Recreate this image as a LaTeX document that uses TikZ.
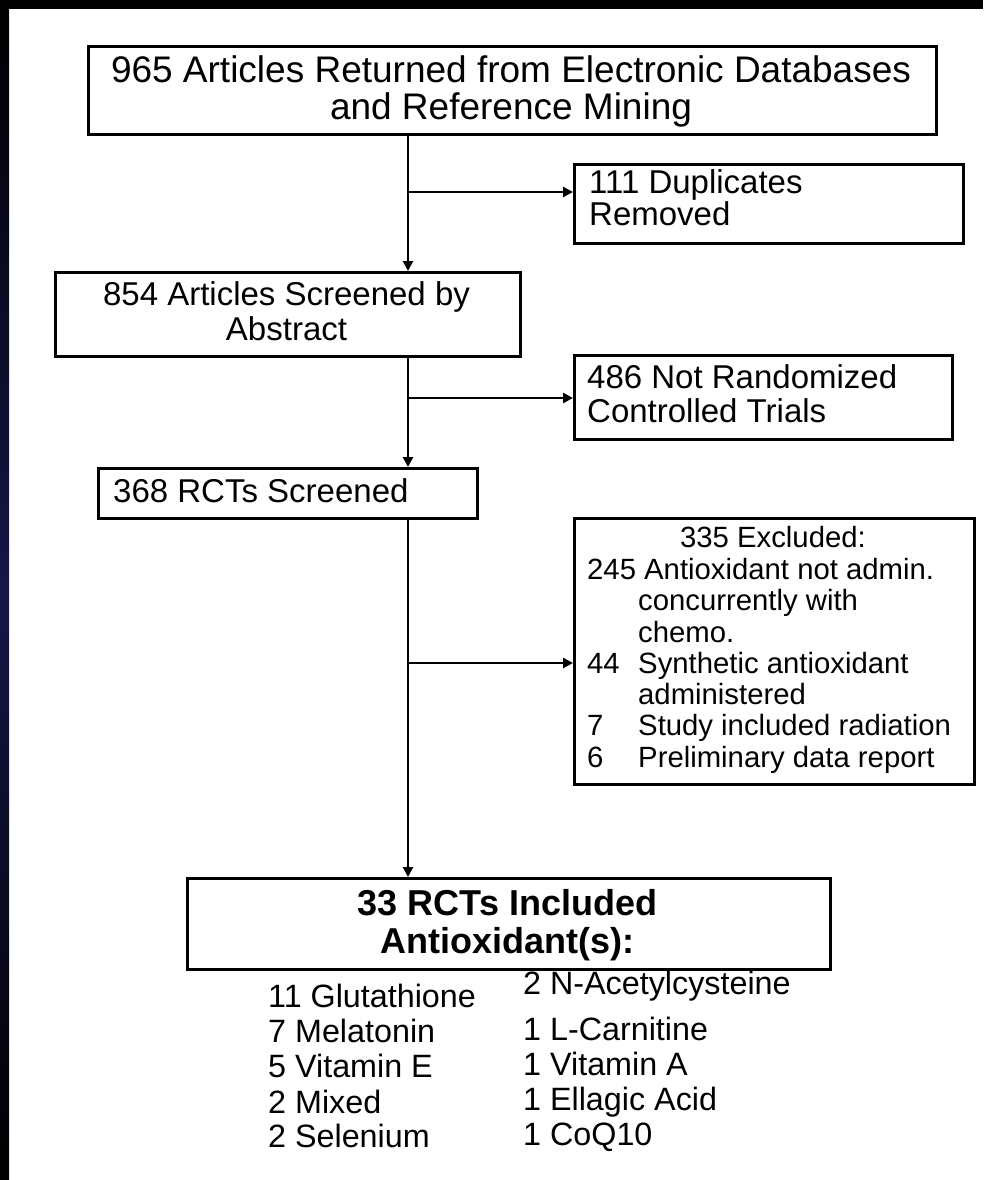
\documentclass[tikz,border=0pt]{standalone}
\usepackage{fontspec}
\setmainfont{Liberation Sans}
\usetikzlibrary{arrows.meta}
\definecolor{navy}{RGB}{22,22,72}
\begin{document}
\begin{tikzpicture}[x=1pt,y=-1pt,
  box/.style={draw=black, line width=2.6pt, rectangle, inner sep=0pt, anchor=north west},
  lbl/.style={inner sep=0pt, anchor=base west},
  ctr/.style={inner sep=0pt, anchor=base},
  conn/.style={line width=2.6pt},
  arr/.style={line width=2.6pt, -{Triangle[length=10pt,width=10pt]}},
  fA/.style={font=\fontsize{37}{37}\selectfont},
  fB/.style={font=\fontsize{33}{33}\selectfont},
  fC/.style={font=\fontsize{29.3}{29.3}\selectfont},
  fD/.style={font=\fontsize{36}{36}\selectfont\bfseries},
  fE/.style={font=\fontsize{32.3}{32.3}\selectfont},
]
% background and frame
\useasboundingbox (0,0) rectangle (983,1180);
\fill[white] (0,0) rectangle (983,1180);
\shade[top color=black, bottom color=black, middle color=navy] (0,0) rectangle (9,1180);
\fill[black] (0,0) rectangle (983,9);

% boxes
\node[box, minimum width=848pt, minimum height=88pt] (b1) at (87,45) {};
\node[box, minimum width=389pt, minimum height=79pt] (b3) at (573,163) {};
\node[box, minimum width=465pt, minimum height=84pt] (b2) at (54,271) {};
\node[box, minimum width=378pt, minimum height=84pt] (b5) at (573,354) {};
\node[box, minimum width=379pt, minimum height=50pt] (b4) at (97,467) {};
\node[box, minimum width=400pt, minimum height=266pt] (b7) at (573,517) {};
\node[box, minimum width=643pt, minimum height=91pt] (b6) at (186,877) {};

% texts
\node[ctr,fA] (t1a) at (511,83) {965 Articles Returned from Electronic Databases};
\node[ctr,fA] (t1b) at (511,120) {and Reference Mining};
\node[lbl,fB] (t3a) at (589,193) {111 Duplicates};
\node[lbl,fB] (t3b) at (589,225) {Removed};
\node[ctr,fB] (t2a) at (286.5,305) {854 Articles Screened by};
\node[ctr,fB] (t2b) at (286.5,340) {Abstract};
\node[lbl,fB] (t5a) at (587,388) {486 Not Randomized};
\node[lbl,fB] (t5b) at (587,422) {Controlled Trials};
\node[lbl,fB] (t4) at (113,502) {368 RCTs Screened};

\node[ctr,fC] (t7a) at (773,547) {335 Excluded:};
\node[lbl,fC] (t7b) at (587,579) {245 Antioxidant not admin.};
\node[lbl,fC] (t7c) at (638,610) {concurrently with};
\node[lbl,fC] (t7d) at (638,642) {chemo.};
\node[lbl,fC] (t7e) at (587,673) {44};
\node[lbl,fC] (t7f) at (638,673) {Synthetic antioxidant};
\node[lbl,fC] (t7g) at (638,704) {administered};
\node[lbl,fC] (t7h) at (587,735) {7};
\node[lbl,fC] (t7i) at (638,735) {Study included radiation};
\node[lbl,fC] (t7j) at (587,767) {6};
\node[lbl,fC] (t7k) at (638,767) {Preliminary data report};

\node[ctr,fD] (t6a) at (507.5,915) {33 RCTs Included};
\node[ctr,fD] (t6b) at (507.5,953) {Antioxidant(s):};

\node[lbl,fE] (l1) at (268,1007) {11 Glutathione};
\node[lbl,fE] (l2) at (268,1042) {7 Melatonin};
\node[lbl,fE] (l3) at (268,1077) {5 Vitamin E};
\node[lbl,fE] (l4) at (268,1113) {2 Mixed};
\node[lbl,fE] (l5) at (268,1147) {2 Selenium};
\node[lbl,fE] (r1) at (523,994) {2 N-Acetylcysteine};
\node[lbl,fE] (r2) at (523,1040) {1 L-Carnitine};
\node[lbl,fE] (r3) at (523,1075) {1 Vitamin A};
\node[lbl,fE] (r4) at (523,1110) {1 Ellagic Acid};
\node[lbl,fE] (r5) at (523,1145) {1 CoQ10};

% connectors
\coordinate (j1) at (408,192);
\coordinate (j2) at (408,398);
\coordinate (j3) at (408,663);
\draw[conn] (b1.south -| j1) -- (j1);
\draw[arr] (j1) -- (j1 -| b3.west);
\draw[arr] (j1) -- (j1 |- b2.north);
\draw[conn] (b2.south -| j2) -- (j2);
\draw[arr] (j2) -- (j2 -| b5.west);
\draw[arr] (j2) -- (j2 |- b4.north);
\draw[conn] (b4.south -| j3) -- (j3);
\draw[arr] (j3) -- (j3 -| b7.west);
\draw[arr] (j3) -- (j3 |- b6.north);
\end{tikzpicture}
\end{document}
